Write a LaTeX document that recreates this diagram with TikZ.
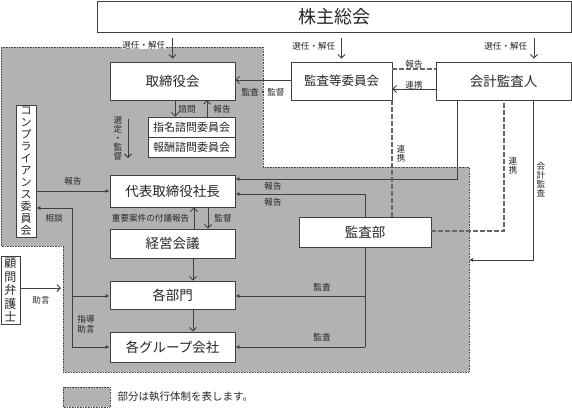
\documentclass[tikz,border=0pt]{standalone}
\usepackage{fontspec}
\setmainfont{Noto Sans CJK JP}
\usetikzlibrary{arrows.meta}
\begin{document}
\begin{tikzpicture}[x=1pt,y=-1pt,
  box/.style={draw=black!75, fill=white, line width=0.9pt, inner sep=0pt, text=black!85},
  big/.style={font=\fontsize{18}{20}\selectfont},
  mid/.style={font=\fontsize{13.5}{15}\selectfont},
  sml/.style={font=\fontsize{11}{12}\selectfont},
  lbl/.style={font=\fontsize{8.6}{9.5}\selectfont, text=black!85, inner sep=0.5pt},
  vlbl/.style={font=\fontsize{8.6}{9}\selectfont, text=black!85, inner sep=0.5pt, align=center},
  ln/.style={draw=black!75, line width=0.9pt},
  oa/.style={ln, -{Straight Barb[length=3.5pt,width=7pt]}},
  fa/.style={ln, -{Latex[length=4pt,width=4pt]}},
  dsh/.style={draw=black!60, line width=1.2pt, dash pattern=on 4.5pt off 2.5pt},
  region/.style={fill=black!30, draw=black!70, line width=0.6pt, densely dotted}
]
\useasboundingbox (0,0) rectangle (572,408);

% executive region
\path[region] (1,47) -- (263,47) -- (263,167) -- (469,167) -- (469,372) -- (63,372) -- (63,246) -- (1,246) -- cycle;
% legend
\path[region] (63,387) rectangle (110,407);
\node[lbl, font=\fontsize{10.5}{11}\selectfont, anchor=west] (legend) at (117,397) {部分は執行体制を表します。};

% boxes
\node[box, big, minimum width=474, minimum height=31] (ksk) at (334,16.5) {株主総会};
\node[box, mid, minimum width=125, minimum height=38] (tor) at (172.5,81) {取締役会};
\node[box, sml, minimum width=87, minimum height=20] (shimei) at (191.5,127) {指名諮問委員会};
\node[box, sml, minimum width=87, minimum height=20] (hoshu) at (191.5,147) {報酬諮問委員会};
\node[box, font=\fontsize{12.5}{14}\selectfont, minimum width=101, minimum height=38] (kansa) at (341.5,81) {監査等委員会};
\node[box, mid, minimum width=135, minimum height=38] (kaikei) at (503.5,81) {会計監査人};
\node[box, mid, minimum width=125, minimum height=32] (daihyo) at (172.5,191) {代表取締役社長};
\node[box, mid, minimum width=125, minimum height=29] (keiei) at (172.5,243.5) {経営会議};
\node[box, mid, minimum width=125, minimum height=28] (kakubu) at (172.5,295) {各部門};
\node[box, mid, minimum width=125, minimum height=30] (group) at (172.5,347) {各グループ会社};
\node[box, mid, minimum width=132, minimum height=30] (kansabu) at (365,232) {監査部};
\node[box, font=\fontsize{11}{12}\selectfont, align=center, minimum width=20, minimum height=132] (comp) at (26,171)
  {コ\\ン\\プ\\ラ\\イ\\ア\\ン\\ス\\委\\員\\会};
\node[box, font=\fontsize{12}{13.4}\selectfont, align=center, minimum width=19, minimum height=68] (komon) at (10.5,290)
  {顧\\問\\弁\\護\\士};

% election arrows from shareholders
\draw[oa, shorten <=6pt, shorten >=3pt] (tor.north |- ksk.south) -- (tor.north);
\node[lbl, fill=white, anchor=east] (l1) at (166,45) {選任・解任};
\draw[oa, shorten <=6pt, shorten >=3pt] (kansa.north |- ksk.south) -- (kansa.north);
\node[lbl, anchor=east] (l2) at (336,46) {選任・解任};
\draw[oa, shorten <=6pt, shorten >=3pt] ([xshift=30.5pt]kaikei.north |- ksk.south) coordinate (e3) -- ([xshift=30.5pt]kaikei.north);
\node[lbl, anchor=east] (l3) at (528,46) {選任・解任};

% audit committee -> board
\draw[oa] ([yshift=1pt]kansa.west) -- ([yshift=1pt]kansa.west -| tor.east);
\node[lbl] (l4) at (263,92) {監査・監督};

% accounting auditor <-> audit committee
\draw[oa] ([yshift=-8pt]kaikei.west) -- ([yshift=-8pt]kaikei.west -| kansa.east);
\node[lbl] (l5) at (414,64) {報告};
\draw[dsh] ([yshift=12pt]kansa.east) -- ([yshift=12pt]kansa.east -| kaikei.west);
\node[lbl] (l6) at (414,85) {連携};

% board <-> advisory committees
\draw[oa] (175,100) -- (shimei.north -| 175,0);
\node[lbl] (l7) at (187,109) {諮問};
\draw[oa] (shimei.north -| 207,0) -- (207,100);
\node[lbl] (l8) at (222,109) {報告};
\coordinate (sd1) at (128,119);
\coordinate (sd2) at (128,158);
\draw[oa] (sd1) -- (sd2);
\node[vlbl] (l9) at (118,138) {選\\定\\・\\監\\督};

% reports to president
\coordinate (k1) at (457,179);
\draw[fa] (kaikei.south -| k1) -- (k1) -- (k1 -| daihyo.east);
\node[lbl] (l10) at (273,186) {報告};
\coordinate (k2) at (365,194);
\draw[fa] (kansabu.north) -- (k2) -- (k2 -| daihyo.east);
\node[lbl] (l11) at (273,202) {報告};

% dashed coordination lines
\draw[dsh] ([xshift=-0.5pt]kansa.south east) -- ([xshift=-0.5pt]kansa.south east |- kansabu.north);
\node[vlbl] (l12) at (401,154) {連\\携};
\coordinate (d1) at (504,231);
\draw[dsh] (kansabu.east |- d1) -- (d1) -- (d1 |- kaikei.south);
\node[vlbl] (l13) at (513,166) {連\\携};

% accounting audit
\coordinate (a1) at (533,260);
\coordinate (a2) at (469,260);
\draw[fa] (a1 |- kaikei.south) -- (a1) -- (a2);
\node[vlbl] (l14) at (541,180) {会\\計\\監\\査};

% internal audit
\coordinate (b1) at (365,347);
\draw[ln] (kansabu.south) -- (b1);
\draw[fa] (365,296) -- (kakubu.east |- 365,296);
\draw[fa] (b1) -- (b1 -| group.east);
\node[lbl] (l15) at (322,287) {監査};
\node[lbl] (l16) at (322,337) {監査};

% president <-> management meeting
\draw[oa] (keiei.north -| 194,0) -- (daihyo.south -| 194,0);
\draw[oa] (daihyo.south -| 208,0) -- (keiei.north -| 208,0);
\node[lbl, anchor=east] (l17) at (190,218) {重要案件の付議報告};
\node[lbl] (l18) at (223,218) {監督};
\draw[oa] (keiei.south -| 193,0) -- (kakubu.north -| 193,0);
\draw[oa] (kakubu.south -| 193,0) -- (group.north -| 193,0);

% compliance committee
\draw[fa] (comp.east |- 0,191) -- (daihyo.west |- 0,191);
\node[lbl] (l19) at (73,181) {報告};
\coordinate (c1) at (72,208);
\coordinate (c2) at (72,347);
\draw[fa] (72,296) -- (c1) -- (c1 -| comp.east);
\draw[ln] (72,296) -- (c2);
\draw[fa] (72,296) -- (kakubu.west |- 0,296);
\draw[fa] (c2) -- (c2 -| group.west);
\node[lbl] (l20) at (54,218) {相談};
\node[lbl, align=center, font=\fontsize{8.6}{10.5}\selectfont] (l21) at (86,324) {指導\\助言};

% legal advisor
\coordinate (h1) at (61,288);
\draw[oa] (komon.east |- h1) -- (h1);
\node[lbl] (l22) at (41,300) {助言};
\end{tikzpicture}
\end{document}
